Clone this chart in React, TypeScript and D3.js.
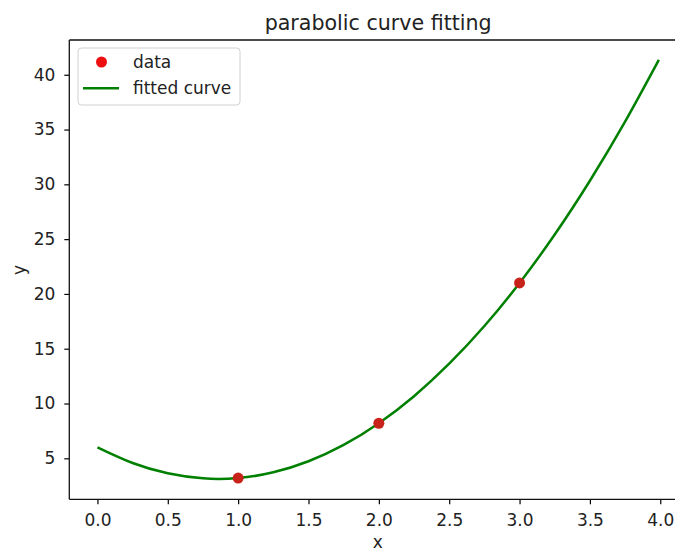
import React, { useEffect, useRef } from 'react'
import * as d3 from 'd3'

// observed data points
const dataX = [1, 2, 3]
const dataY = [3.2, 8.2, 21.0]

// fitted curve
const curveX = [0, 0.25, 0.5, 0.75, 1.0, 1.25, 1.5, 1.75, 2.0, 2.25, 2.5, 2.75, 3.0, 3.25, 3.5, 3.75, 3.99]
const curveY = [6.0, 4.57, 3.63, 3.17, 3.2, 3.72, 4.73, 6.22, 8.2, 10.67, 13.63, 17.07, 21.0, 25.42, 30.33, 35.72, 41.36]

const xTicks = [0, 0.5, 1, 1.5, 2, 2.5, 3, 3.5, 4]
const yTicks = [5, 10, 15, 20, 25, 30, 35, 40]

const FONT = 'DejaVu Sans, sans-serif'

const App = () => {
  const ref = useRef<SVGSVGElement>(null)

  useEffect(() => {
    const svg = d3.select(ref.current)
    svg.selectAll('*').remove()

    // right edge of the axes lies past the picture, it is cropped
    const left = 69.3, right = 687, top = 40, bottom = 499.3

    const x = d3.scaleLinear().domain([-0.2, 4.19]).range([left, right])
    const y = d3.scaleLinear().domain([1.26, 43.17]).range([bottom, top])

    // x axis
    const xa = svg.append('g')
      .attr('transform', 'translate(0,' + bottom + ')')
      .call(d3.axisBottom(x).tickValues(xTicks).tickFormat(d3.format('.1f')).tickSize(5).tickPadding(10))
    xa.select('.domain').remove()
    xa.selectAll('line').attr('stroke', '#000').attr('stroke-width', 1.2)
    xa.selectAll('text').attr('font-family', FONT).attr('font-size', 17).attr('fill', '#222')

    // y axis
    const ya = svg.append('g')
      .attr('transform', 'translate(' + left + ',0)')
      .call(d3.axisLeft(y).tickValues(yTicks).tickSize(5).tickPadding(9))
    ya.select('.domain').remove()
    ya.selectAll('line').attr('stroke', '#000').attr('stroke-width', 1.2)
    ya.selectAll('text').attr('font-family', FONT).attr('font-size', 17).attr('fill', '#222')

    // spines (left, bottom, top); the right one is outside the view
    const spines = [
      [left, top, left, bottom],
      [left, bottom, right, bottom],
      [left, top, right, top],
    ]
    svg.selectAll('.spine')
      .data(spines)
      .enter().append('line')
      .attr('class', 'spine')
      .attr('x1', d => d[0]).attr('y1', d => d[1])
      .attr('x2', d => d[2]).attr('y2', d => d[3])
      .attr('stroke', '#111').attr('stroke-width', 1.3)

    // fitted curve
    const pts = curveX.map((v, i) => [v, curveY[i]] as [number, number])
    const line = d3.line<[number, number]>()
      .x(d => x(d[0]))
      .y(d => y(d[1]))
      .curve(d3.curveNatural)
    svg.append('path')
      .datum(pts)
      .attr('d', line)
      .attr('fill', 'none')
      .attr('stroke', '#008000')
      .attr('stroke-width', 2.5)

    // data points
    svg.selectAll('.pt')
      .data(dataX.map((v, i) => [v, dataY[i]]))
      .enter().append('circle')
      .attr('class', 'pt')
      .attr('cx', d => x(d[0]))
      .attr('cy', d => y(d[1]))
      .attr('r', 5.5)
      .attr('fill', '#c8231a')

    // title & labels
    svg.append('text')
      .attr('x', (left + right) / 2).attr('y', 30)
      .attr('text-anchor', 'middle')
      .attr('font-family', FONT).attr('font-size', 20.6).attr('fill', '#222')
      .text('parabolic curve fitting')
    svg.append('text')
      .attr('x', 377.7).attr('y', 548)
      .attr('text-anchor', 'middle')
      .attr('font-family', FONT).attr('font-size', 17).attr('fill', '#222')
      .text('x')
    svg.append('text')
      .attr('transform', 'translate(25,270) rotate(-90)')
      .attr('text-anchor', 'middle')
      .attr('font-family', FONT).attr('font-size', 17).attr('fill', '#222')
      .text('y')

    // legend
    const lg = svg.append('g')
    lg.append('rect')
      .attr('x', 78).attr('y', 48).attr('width', 162).attr('height', 57)
      .attr('rx', 3.5)
      .attr('fill', '#fff').attr('fill-opacity', 0.8)
      .attr('stroke', '#d0d0d0').attr('stroke-width', 1)
    lg.append('circle').attr('cx', 101.5).attr('cy', 62).attr('r', 5.5).attr('fill', '#ee1010')
    lg.append('line')
      .attr('x1', 83).attr('x2', 119).attr('y1', 88.3).attr('y2', 88.3)
      .attr('stroke', '#008000').attr('stroke-width', 2.5)
    lg.append('text').attr('x', 133).attr('y', 62).attr('dy', '0.35em')
      .attr('font-family', FONT).attr('font-size', 17).attr('fill', '#222').text('data')
    lg.append('text').attr('x', 133).attr('y', 88.3).attr('dy', '0.35em')
      .attr('font-family', FONT).attr('font-size', 17).attr('fill', '#222').text('fitted curve')
  }, [])

  return (
    <svg ref={ref} width={675} height={552}
      style={{ position: 'absolute', left: 0, top: 0, background: '#fff', overflow: 'hidden' }} />
  )
}

export default App
